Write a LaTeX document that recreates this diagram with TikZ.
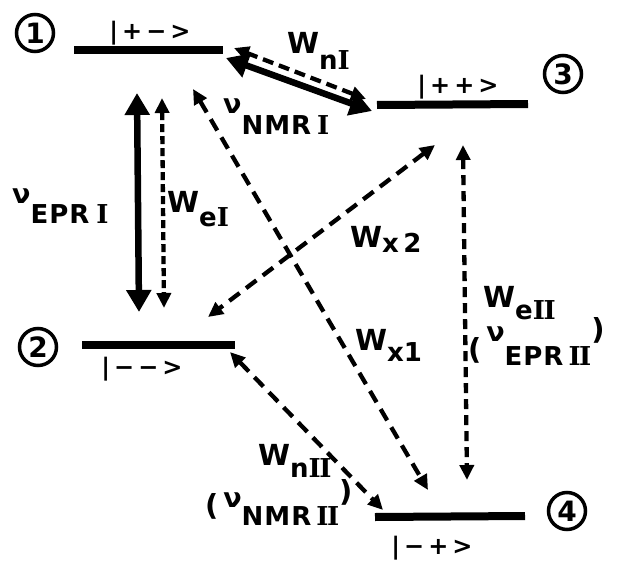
\documentclass[tikz,border=0pt]{standalone}
\usepackage{fontspec}
\setmainfont{DejaVu Sans}
\newfontfamily\rmn{DejaVu Serif}
\usetikzlibrary{arrows.meta}
\newcommand\rI{{\rmn\bfseries I}}
\newcommand\rII{{\rmn\bfseries I\kern-1.5pt I}}
\newcommand\dn[2]{\raisebox{-#1pt}{#2}}
\newcommand\nuc{{\fontsize{27}{27}\selectfont ν}}
\newcommand\sbf{\fontsize{26}{26}\selectfont}
\begin{document}
\begin{tikzpicture}[x=1pt,y=-1pt,
 level/.style={line width=8pt},
 solidarr/.style={line width=6.5pt,{Triangle[length=22pt,width=24pt]}-{Triangle[length=22pt,width=24pt]}},
 dasharr/.style={line width=4.3pt,dash pattern=on 11pt off 6pt,{Triangle[length=15pt,width=14pt]}-{Triangle[length=15pt,width=14pt]}},
 densedash/.style={dash pattern=on 8pt off 4pt},
 num/.style={circle,draw,line width=3.5pt,minimum size=37pt,inner sep=0pt,font=\fontsize{28}{28}\selectfont\bfseries},
 ket/.style={font=\fontsize{24}{24}\selectfont\bfseries, inner sep=0pt},
 lbl/.style={font=\fontsize{29}{29}\selectfont\bfseries, inner sep=0pt, anchor=base west}
]
\useasboundingbox (0,0) rectangle (624,562);
% levels
\coordinate (l1a) at (74,50);  \coordinate (l1b) at (223,50);
\coordinate (l3a) at (377,105); \coordinate (l3b) at (528,104);
\coordinate (l2a) at (82,345);  \coordinate (l2b) at (235,345);
\coordinate (l4a) at (375,517); \coordinate (l4b) at (525,516);
\draw[level] (l1a) -- (l1b);
\draw[level] (l3a) -- (l3b);
\draw[level] (l2a) -- (l2b);
\draw[level] (l4a) -- (l4b);
% state numbers
\node[num] (n1) at (35,33) {1};
\node[num] (n3) at (563,74) {3};
\node[num] (n2) at (38,347) {2};
\node[num] (n4) at (567,511) {4};
% kets
\node[ket] (k1) at (150,33) {|\,+\,−\,>};
\node[ket] (k3) at (458,87) {|\,+\,+\,>};
\node[ket] (k2) at (142,369) {|\,−\,−\,>};
\node[ket] (k4) at (432,548) {|\,−\,+\,>};
% arrow end points
\coordinate (e1t) at (137,93);  \coordinate (e1b) at (139,312);
\coordinate (w1t) at (162,98);  \coordinate (w1b) at (164,308);
\coordinate (m1a) at (226,58);  \coordinate (m1b) at (372,111);
\coordinate (wn1a) at (234,48); \coordinate (wn1b) at (366,99);
\coordinate (x1a) at (193,89);  \coordinate (x1b) at (428,490);
\coordinate (x2a) at (435,145); \coordinate (x2b) at (208,317);
\coordinate (w2t) at (463,145); \coordinate (w2b) at (467,480);
\coordinate (wn2a) at (230,352); \coordinate (wn2b) at (383,510);
\draw[solidarr] (e1t) -- (e1b);
\draw[dasharr,densedash] (w1t) -- (w1b);
\draw[solidarr] (m1a) -- (m1b);
\draw[dasharr] (wn1a) -- (wn1b);
\draw[dasharr,dash pattern=on 13pt off 8pt] (x1a) -- (x1b);
\draw[dasharr,dash pattern=on 13pt off 8pt] (x2a) -- (x2b);
\draw[dasharr,dash pattern=on 10pt off 6pt] (w2t) -- (w2b);
\draw[dasharr,dash pattern=on 13pt off 8pt] (wn2a) -- (wn2b);
% labels
\node[lbl] (tEPR1) at (12,203) {\nuc\dn{20}{\sbf E\kern1pt P\kern1pt R\kern7pt\rI}};
\node[lbl] (tWe1) at (167,212) {W\dn{14}{\sbf e\rI}};
\node[lbl] (tWn1) at (287,53) {W\dn{16}{\sbf n\rI}};
\node[lbl] (tNMR1) at (223,113) {\nuc\dn{21}{\sbf N\kern1pt M\kern1pt R\kern6pt\rI}};
\node[lbl] (tWx2) at (350,247) {W\dn{5}{\sbf x\,2}};
\node[lbl] (tWx1) at (355,350) {W\dn{11}{\sbf x1}};
\node[lbl] (tWe2) at (483,307) {W\dn{12}{\sbf e\rII}};
\node[lbl] (tEPR2) at (468,341) {\dn{18}{(\,}\nuc\dn{24}{\sbf E\kern1pt P\kern1pt R\kern5pt\rII}\dn{-2}{)}};
\node[lbl] (tWn2) at (258,465) {W\dn{12}{\sbf n\rII}};
\node[lbl] (tNMR2) at (205,507) {\dn{8}{(\,}\nuc\dn{18}{\sbf N\kern1pt M\kern1pt R\kern5pt\rII}\dn{-6}{)}};
\end{tikzpicture}
\end{document}
